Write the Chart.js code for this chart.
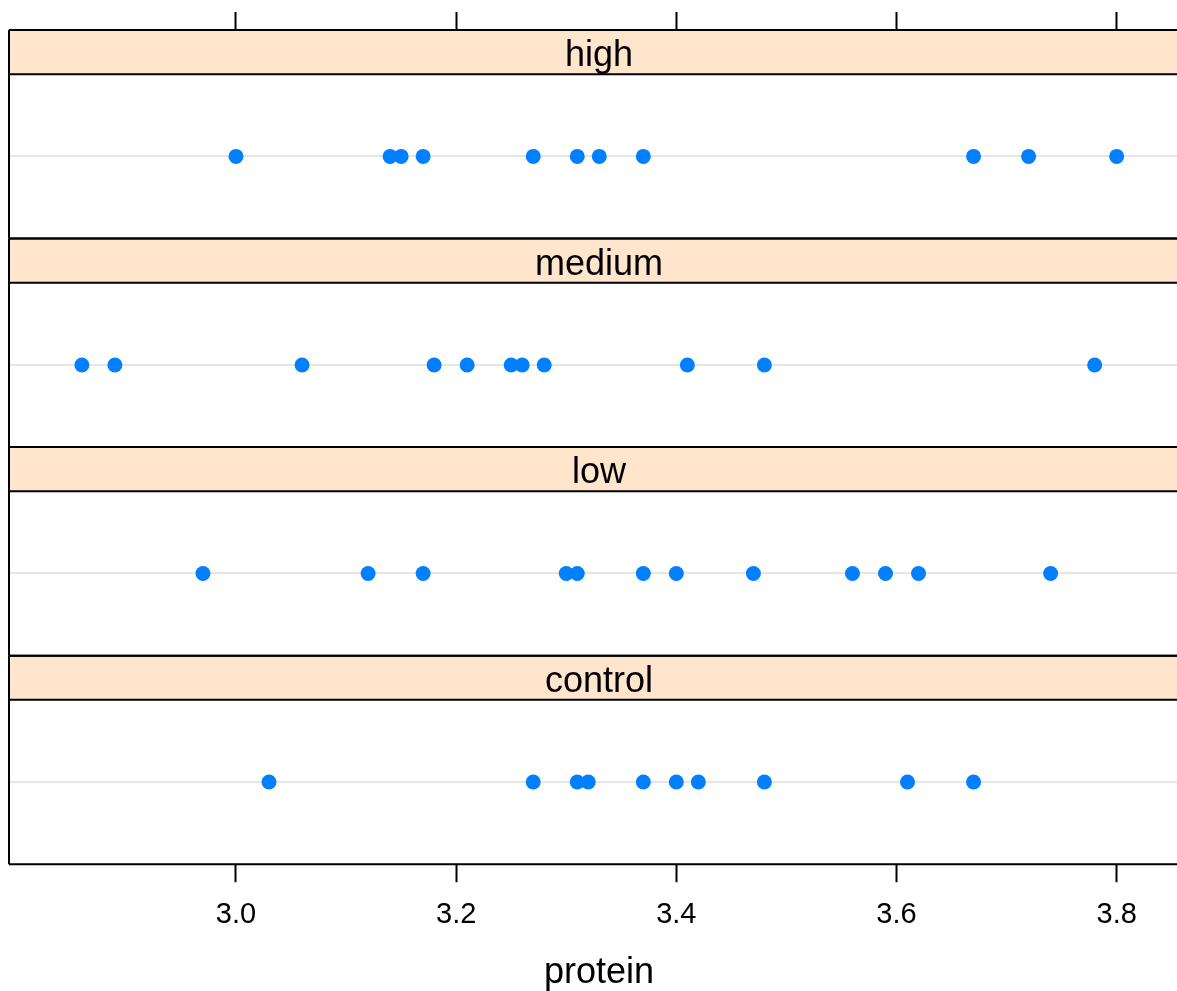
<!DOCTYPE html>
<html>
<head>
<meta charset="utf-8">
<style>
html,body{margin:0;padding:0;background:#fff;overflow:hidden;width:1177px;height:991px;}
canvas{display:block;}
</style>
<script src="https://cdn.jsdelivr.net/npm/chart.js@4/dist/chart.umd.min.js"></script>
</head>
<body>
<canvas id="c" width="1189" height="991"></canvas>
<script>
// Panels from bottom to top
const levels = ['control', 'low', 'medium', 'high'];
const control = [3.03, 3.27, 3.31, 3.32, 3.37, 3.40, 3.42, 3.48, 3.61, 3.67];
const low = [2.97, 3.12, 3.17, 3.30, 3.31, 3.37, 3.40, 3.47, 3.56, 3.59, 3.62, 3.74];
const medium = [2.86, 2.89, 3.06, 3.18, 3.21, 3.25, 3.26, 3.28, 3.41, 3.48, 3.78];
const high = [3.00, 3.14, 3.15, 3.17, 3.27, 3.31, 3.33, 3.37, 3.67, 3.72, 3.80];
const tickValues = [3.0, 3.2, 3.4, 3.6, 3.8];
const xTitle = 'protein';

const seriesByLevel = [control, low, medium, high];
const STRIP_FRAC = 0.212;            // fraction of each panel block used by the strip
const DOT_OFFSET = (1 - STRIP_FRAC) / 2;
const FONT = '"Liberation Sans", Arial, Helvetica, sans-serif';

const points = [];
seriesByLevel.forEach((arr, k) => arr.forEach(v => points.push({x: v, y: k + DOT_OFFSET})));

const latticePlugin = {
  id: 'lattice',
  beforeDatasetsDraw(chart) {
    const {ctx, chartArea: a, scales: {y}} = chart;
    ctx.save();
    ctx.strokeStyle = '#e6e6e6';
    ctx.lineWidth = 2;
    levels.forEach((_, k) => {
      const py = Math.round(y.getPixelForValue(k + DOT_OFFSET));
      ctx.beginPath();
      ctx.moveTo(a.left, py);
      ctx.lineTo(a.right, py);
      ctx.stroke();
    });
    ctx.restore();
  },
  afterDatasetsDraw(chart) {
    const {ctx, chartArea: a, scales: {y}} = chart;
    ctx.save();
    levels.forEach((name, k) => {
      const top = y.getPixelForValue(k + 1);
      const sb = y.getPixelForValue(k + 1 - STRIP_FRAC);
      const bot = y.getPixelForValue(k);
      ctx.fillStyle = '#ffe5cc';
      ctx.fillRect(a.left, top, a.right - a.left, sb - top);
      ctx.strokeStyle = '#000';
      ctx.lineWidth = 2;
      ctx.beginPath();
      ctx.moveTo(a.left, top); ctx.lineTo(a.right, top);
      ctx.moveTo(a.left, sb); ctx.lineTo(a.right, sb);
      ctx.moveTo(a.left, bot); ctx.lineTo(a.right, bot);
      ctx.moveTo(a.left, top); ctx.lineTo(a.left, bot);
      ctx.moveTo(a.right - 1, top); ctx.lineTo(a.right - 1, bot);
      ctx.stroke();
      ctx.fillStyle = '#000';
      ctx.font = '36px ' + FONT;
      ctx.textAlign = 'center';
      ctx.textBaseline = 'middle';
      ctx.fillText(name, (a.left + a.right) / 2, (top + sb) / 2 + 4);
    });
    ctx.restore();
  }
};

const xMin = 2.7938, xMax = 3.8657;
const setTicks = s => { s.ticks = tickValues.map(v => ({value: v})); };

new Chart(document.getElementById('c'), {
  type: 'scatter',
  data: {
    datasets: [{
      data: points,
      pointRadius: 7.5,
      pointHoverRadius: 7.5,
      pointBackgroundColor: '#0080ff',
      pointBorderWidth: 0,
      borderWidth: 0
    }]
  },
  options: {
    responsive: false,
    animation: false,
    events: [],
    layout: {autoPadding: false, padding: {left: 9, right: 0, top: 12, bottom: 0}},
    plugins: {legend: {display: false}, tooltip: {enabled: false}},
    scales: {
      x: {
        type: 'linear', position: 'bottom', min: xMin, max: xMax,
        afterBuildTicks: setTicks,
        grid: {display: true, drawOnChartArea: false, drawTicks: true, tickLength: 18, tickWidth: 2, tickColor: '#000'},
        border: {display: false},
        ticks: {padding: 15, color: '#000', font: {family: FONT, size: 29}, callback: v => v.toFixed(1), maxRotation: 0, autoSkip: false},
        title: {display: true, text: xTitle, color: '#000', font: {family: FONT, size: 36, lineHeight: 1.0}, padding: {top: 8, bottom: 0}}
      },
      x2: {
        type: 'linear', position: 'top', min: xMin, max: xMax,
        afterBuildTicks: setTicks,
        grid: {display: true, drawOnChartArea: false, drawTicks: true, tickLength: 18, tickWidth: 2, tickColor: '#000'},
        border: {display: false},
        ticks: {display: false}
      },
      y: {type: 'linear', min: 0, max: 4, display: false}
    }
  },
  plugins: [latticePlugin]
});
</script>
</body>
</html>
